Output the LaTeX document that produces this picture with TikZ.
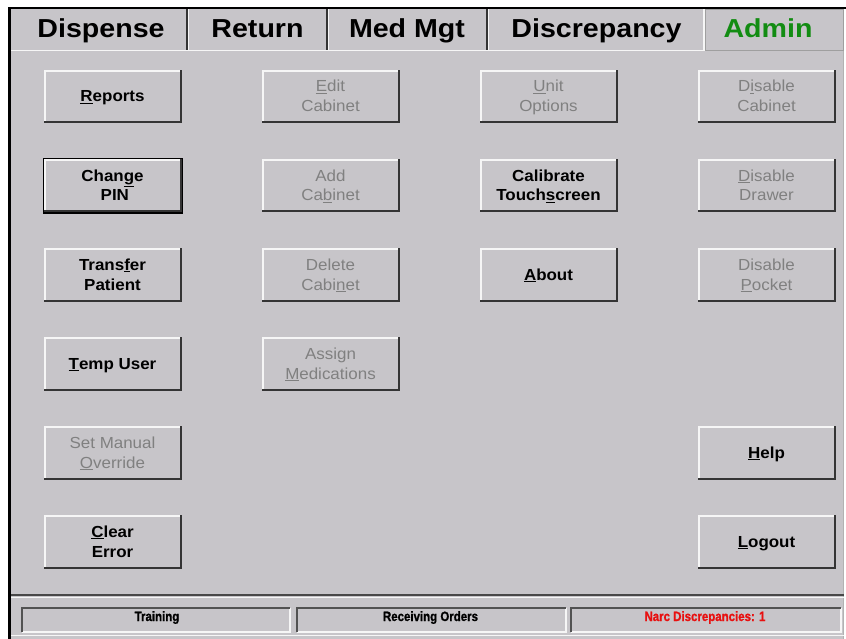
\documentclass[tikz,border=0pt]{standalone}
\usepackage{fontspec}
\setmainfont{Liberation Sans}
\newfontfamily\btnfont[FakeStretch=1.06]{Liberation Sans}
\newfontfamily\tabfont[FakeStretch=1.1]{Liberation Sans}
\newfontfamily\statfont[FakeStretch=0.85,FakeBold=1.2]{Liberation Sans}
\definecolor{winbg}{RGB}{199,197,201}
\definecolor{edgelight}{RGB}{246,246,246}
\definecolor{edgedark}{RGB}{52,52,52}
\definecolor{distext}{RGB}{128,128,128}
\definecolor{admingreen}{RGB}{18,140,18}
\definecolor{narcred}{RGB}{232,16,16}
\newcommand\ul[1]{\vtop{\hbox{#1}\kern1.3pt\hrule height0.8pt}}
% #1 name, #2 x, #3 y, #4 text style, #5 baseline offset (last line), #6 text
\newcommand\mkbtn[6]{%
  \draw[btnlight] (#2+1,#3+52) -- (#2+1,#3+1) -- (#2+136,#3+1);
  \draw[btndark] (#2,#3+52.5) -- (#2+136.5,#3+52.5) -- (#2+136.5,#3);
  \node[#4] (#1) at (#2+68.5,#3+#5) {#6};
}
\begin{document}
\begin{tikzpicture}[x=1pt,y=-1pt,
  btnlight/.style={draw=edgelight,line width=1.6pt},
  btndark/.style={draw=edgedark,line width=2pt},
  entext/.style={anchor=base,align=center,inner sep=0pt,text=black,
    font=\btnfont\bfseries\fontsize{16}{20}\selectfont},
  distext/.style={anchor=base,align=center,inner sep=0pt,text=distext,
    font=\btnfont\fontsize{16}{20}\selectfont},
  tabtext/.style={anchor=base,inner sep=0pt,font=\tabfont\bfseries\fontsize{26}{30}\selectfont},
  stattext/.style={anchor=base,inner sep=0pt,font=\statfont\bfseries\fontsize{13.5}{16}\selectfont},
  sunkdark/.style={draw=edgedark!85,line width=2pt},
  sunklight/.style={draw=edgelight,line width=1.5pt},
]
\useasboundingbox (0,0) rectangle (846,639);
\fill[white] (0,0) rectangle (846,639);
\fill[winbg] (8,8) rectangle (844,639);
% window frame
\fill[black] (8,7) rectangle (846,9.5);
\fill[black] (8,7) rectangle (11,639);
\draw[gray!60,line width=1pt] (843.5,9.5) -- (843.5,639);
% tabs
\draw[edgelight,line width=1pt] (11,50.5) -- (704,50.5);
\foreach \xx in {187,327,487} {
  \draw[edgedark,line width=1.5pt] (\xx,9.5) -- (\xx,50);
  \draw[edgelight,line width=1pt] (\xx+1.3,9.5) -- (\xx+1.3,50);
}
\draw[edgelight,line width=1.2pt] (704,9.5) -- (704,51);
\draw[gray!75,line width=1pt] (705.5,10) rectangle (843,50.5);
\node[tabtext] (tabdisp) at (101,38) {Dispense};
\node[tabtext] (tabret) at (257.5,38) {Return};
\node[tabtext] (tabmed) at (407,38) {Med Mgt};
\node[tabtext] (tabdisc) at (596.5,38) {Discrepancy};
\node[tabtext,text=admingreen] (tabadmin) at (768,38) {Admin};
% row 1
\mkbtn{reports}{44}{70}{entext}{32}{\ul{R}eports}
\mkbtn{editcab}{262}{70}{distext}{42}{\ul{E}dit\\Cabinet}
\mkbtn{unitopt}{480}{70}{distext}{42}{\ul{U}nit\\Options}
\mkbtn{discab}{698}{70}{distext}{42}{D\ul{i}sable\\Cabinet}
% row 2
\draw[black,line width=1.2pt] (43.5,158.5) rectangle (182,213);
\mkbtn{chpin}{44}{159}{entext}{42}{Chan\ul{g}e\\\ PIN}
\mkbtn{addcab}{262}{159}{distext}{42}{Add\\Ca\ul{b}inet}
\mkbtn{calib}{480}{159}{entext}{42}{Calibrate\\Touch\ul{s}creen}
\mkbtn{disdraw}{698}{159}{distext}{42}{\ul{D}isable\\Drawer}
% row 3
\mkbtn{transfer}{44}{248}{entext}{42}{Trans\ul{f}er\\Patient}
\mkbtn{delcab}{262}{248}{distext}{42}{Delete\\Cabi\ul{n}et}
\mkbtn{about}{480}{248}{entext}{32}{\ul{A}bout}
\mkbtn{dispocket}{698}{248}{distext}{42}{Disable\\\ul{P}ocket}
% row 4
\mkbtn{tempuser}{44}{337}{entext}{32}{\ul{T}emp User}
\mkbtn{assign}{262}{337}{distext}{42}{Assign\\\ul{M}edications}
% row 5
\mkbtn{override}{44}{426}{distext}{42}{Set Manual\\\ul{O}verride}
\mkbtn{help}{698}{426}{entext}{32}{\ul{H}elp}
% row 6
\mkbtn{clearerr}{44}{515}{entext}{42}{\ul{C}lear\\Error}
\mkbtn{logout}{698}{515}{entext}{32}{\ul{L}ogout}
% status bar
\draw[edgedark!90,line width=2pt] (11,595) -- (844,595);
\draw[edgelight,line width=1pt] (11,597.5) -- (844,597.5);
\foreach \xa/\xb in {21/290,296/566,570/841} {
  \draw[sunklight] (\xa+1,632) -- (\xb,632) -- (\xb,608);
  \draw[sunkdark] (\xa+1,632) -- (\xa+1,608) -- (\xb,608);
}
\draw[edgelight,line width=1pt] (11,635.5) -- (844,635.5);
\node[stattext] (sttrain) at (157,621) {Training};
\node[stattext] (strecv) at (430.5,621) {Receiving Orders};
\node[stattext,text=narcred] (stnarc) at (705,621) {Narc Discrepancies: 1};
\end{tikzpicture}
\end{document}
